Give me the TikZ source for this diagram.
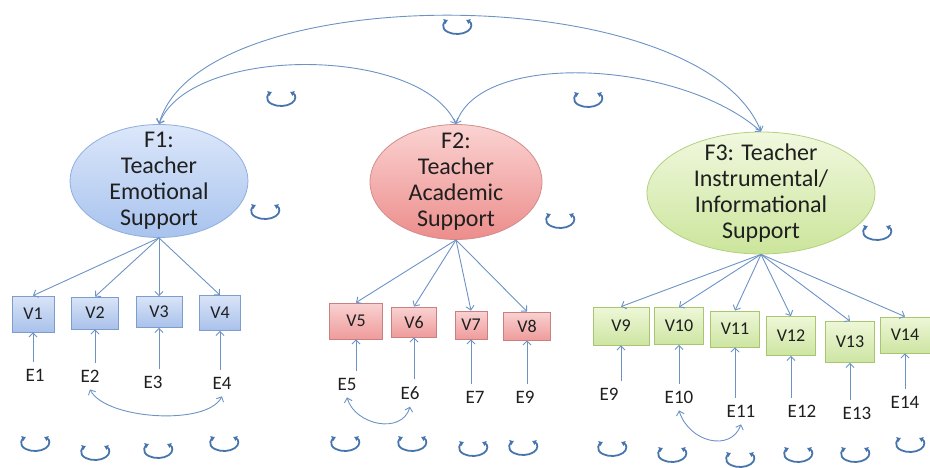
\documentclass[tikz,border=0pt]{standalone}
\usepackage{fontspec}
\setmainfont{Carlito}
\usetikzlibrary{shapes.geometric,arrows.meta}
\definecolor{txt}{HTML}{1F1F1F}
\definecolor{linkcol}{HTML}{6C93C4}
\definecolor{loopcol}{HTML}{4774AC}
\definecolor{f1top}{HTML}{DCE7FA}
\definecolor{f1bot}{HTML}{A8C3EE}
\definecolor{f1line}{HTML}{8FAEDD}
\definecolor{f2top}{HTML}{FAD3D2}
\definecolor{f2bot}{HTML}{EC8D8B}
\definecolor{f2line}{HTML}{D38C8B}
\definecolor{f3top}{HTML}{F1F8DF}
\definecolor{f3bot}{HTML}{CBE59B}
\definecolor{f3line}{HTML}{B3D17F}
\definecolor{vbtop}{HTML}{D9E4F7}
\definecolor{vbbot}{HTML}{A9C1EB}
\definecolor{vbline}{HTML}{7D9DCF}
\definecolor{vrtop}{HTML}{F9D2D2}
\definecolor{vrbot}{HTML}{EF9B9B}
\definecolor{vrline}{HTML}{C98080}
\definecolor{vgtop}{HTML}{EEF7D8}
\definecolor{vgbot}{HTML}{CDE5A2}
\definecolor{vgline}{HTML}{A8C670}
\begin{document}
\begin{tikzpicture}[x=1pt,y=-1pt,
  >={Straight Barb[length=4pt,width=8pt]},
  link/.style={->,draw=linkcol,line width=0.9pt},
  factor/.style={ellipse,line width=0.8pt},
  ftext/.style={align=center,font=\fontsize{24}{26}\selectfont,text=txt},
  obs/.style={rectangle,line width=0.8pt,font=\fontsize{18}{20}\selectfont,text=txt},
  obsb/.style={obs,draw=vbline,top color=vbtop,bottom color=vbbot},
  obsr/.style={obs,draw=vrline,top color=vrtop,bottom color=vrbot},
  obsg/.style={obs,draw=vgline,top color=vgtop,bottom color=vgbot},
  err/.style={font=\fontsize{19}{21}\selectfont,text=txt,inner xsep=2pt,inner ysep=7pt},
  varloop/.style={draw=loopcol,line width=1.8pt,{Latex[length=4pt,width=6pt]}-{Latex[length=4pt,width=6pt]}}]
\useasboundingbox (0,0) rectangle (930,468);
\node[factor,draw=f1line,top color=f1top,bottom color=f1bot,minimum width=178pt,minimum height=113pt,
  label={[ftext]center:{F1:\\Teacher\\Emotional\\Support}}] (f1) at (159,181) {};
\node[factor,draw=f2line,top color=f2top,bottom color=f2bot,minimum width=172pt,minimum height=115pt,
  label={[ftext]center:{F2:\\Teacher\\Academic\\Support}}] (f2) at (456,182) {};
\node[factor,draw=f3line,top color=f3top,bottom color=f3bot,minimum width=228pt,minimum height=122pt,
  label={[ftext]center:{F3: Teacher\\Instrumental/\\Informational\\Support}}] (f3) at (761,193) {};
\node[obsb,minimum width=42pt,minimum height=36pt] (v1) at (33,314) {V1};
\node[obsb,minimum width=47pt,minimum height=32pt] (v2) at (95,313) {V2};
\node[obsb,minimum width=46pt,minimum height=31pt] (v3) at (159,312) {V3};
\node[obsb,minimum width=41pt,minimum height=35pt] (v4) at (220,313) {V4};
\node[obsr,minimum width=53pt,minimum height=36pt] (v5) at (356,321) {V5};
\node[obsr,minimum width=45pt,minimum height=30pt] (v6) at (414,322) {V6};
\node[obsr,minimum width=32pt,minimum height=28pt] (v7) at (471,325) {V7};
\node[obsr,minimum width=47pt,minimum height=28pt] (v8) at (527,326) {V8};
\node[obsg,minimum width=56pt,minimum height=38pt] (v9) at (621,326) {V9};
\node[obsg,minimum width=49pt,minimum height=37pt] (v10) at (679,326) {V10};
\node[obsg,minimum width=49pt,minimum height=36pt] (v11) at (735,329) {V11};
\node[obsg,minimum width=49pt,minimum height=39pt] (v12) at (791,336) {V12};
\node[obsg,minimum width=49pt,minimum height=41pt] (v13) at (850,342) {V13};
\node[obsg,minimum width=50pt,minimum height=36pt] (v14) at (905,335) {V14};
\node[err] (e1) at (35,375) {E1};
\node[err] (e2) at (90,376) {E2};
\node[err] (e3) at (153,382) {E3};
\node[err] (e4) at (222,383) {E4};
\node[err] (e5) at (347,384) {E5};
\node[err] (e6) at (410,393) {E6};
\node[err] (e7) at (475,397) {E7};
\node[err] (e8) at (525,397) {E9};
\node[err] (e9) at (609,394) {E9};
\node[err] (e10) at (679,397) {E10};
\node[err] (e11) at (741,411) {E11};
\node[err] (e12) at (802,411) {E12};
\node[err] (e13) at (857,413) {E13};
\node[err] (e14) at (905,402) {E14};
\draw[link,<->] (f1.north) .. controls (200,-22) and (700,-22) .. (f3.north);
\draw[link,<->] (f1.north) .. controls (190,45) and (420,45) .. (f2.north);
\draw[link,<->] (f2.north) .. controls (480,50) and (680,60) .. (f3.north);
\foreach \v in {v1,v2,v3,v4} \draw[link] (f1.south) -- (\v.north);
\foreach \v in {v5,v6,v7,v8} \draw[link] (f2.south) -- (\v.north);
\foreach \v in {v9,v10,v11,v12,v13,v14} \draw[link] (f3.south) -- (\v.north);
\foreach \n in {1,...,14} \draw[link] (v\n |- e\n.north) -- (v\n.south);
\draw[link,<->] (e2.south) .. controls +(15,30) and +(-15,30) .. (e4.south);
\draw[link,<->] (e5.south) .. controls +(8,28) and +(-8,28) .. (e6.south);
\draw[link,<->] (e10.south) .. controls +(10,32) and +(-10,28) .. (e11.south);
\foreach \x/\y in {457/26,281/98,588/99,265/211,560/220,877/232,
  35/443,95/452,158/450,224/443,345/443,412/443,473/448,523/447,
  612/448,672/454,740/459,798/454,855/454,910/444}
  \draw[varloop] (\x,\y) ++(-50:14 and 8) arc[start angle=-50,end angle=230,x radius=14,y radius=8];
\end{tikzpicture}
\end{document}
